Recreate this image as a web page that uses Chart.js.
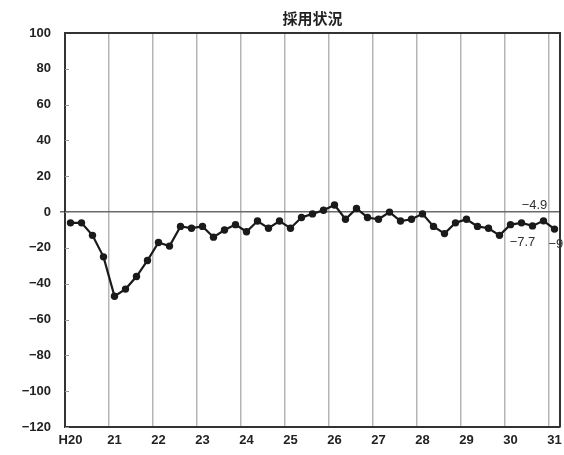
<!DOCTYPE html>
<html lang="ja">
<head>
<meta charset="utf-8">
<title>採用状況</title>
<script src="https://cdn.jsdelivr.net/npm/chart.js@4.4.1/dist/chart.umd.min.js"></script>
<style>
  html, body { margin: 0; padding: 0; background: #fff; }
  #wrap { width: 564px; height: 455px; position: relative; }
</style>
</head>
<body>
<div id="wrap"><canvas id="c" width="564" height="455"></canvas></div>
<script>
// Fiscal years (Heisei era), one tick label per year
const years = ['H20', '21', '22', '23', '24', '25', '26', '27', '28', '29', '30', '31'];
const quarters = ['1Q', '2Q', '3Q', '4Q'];

// Quarterly DI values, H20 1Q through H31 1Q (last one is the outlook)
const values = [
  -6, -6, -13, -25,
  -47, -43, -36, -27,
  -17, -19, -8, -9,
  -8, -14, -10, -7,
  -11, -5, -9, -5,
  -9, -3, -1, 1,
  4, -4, 2, -3,
  -4, 0, -5, -4,
  -1, -8, -12, -6,
  -4, -8, -9, -13,
  -7, -6, -7.7, -4.9,
  -9.5
];

// Quarter-level categories built from the year list
const categories = [];
years.forEach(y => quarters.forEach(q => categories.push(y + ' ' + q)));
categories.length = values.length;

// Points whose values are printed next to them
const labelledPoints = [
  { index: 42, place: 'below' },
  { index: 43, place: 'above' },
  { index: 44, place: 'belowRight' }
];

const yTicks = { min: -120, max: 100, step: 20 };
const titleText = '採用状況';

const minus = s => String(s).replace('-', '\u2212');

const framePlugin = {
  id: 'frame',
  afterDatasetsDraw(chart) {
    const { ctx, chartArea: a, scales } = chart;
    ctx.save();
    // small inward tick marks on the value axis
    ctx.strokeStyle = '#9a9a9a';
    ctx.lineWidth = 1;
    scales.y.ticks.forEach(t => {
      const py = Math.round(scales.y.getPixelForValue(t.value)) + 0.5;
      ctx.beginPath();
      ctx.moveTo(a.left, py);
      ctx.lineTo(a.left + 4, py);
      ctx.stroke();
    });
    // top and right edges of the plot frame
    ctx.strokeStyle = '#333';
    ctx.lineWidth = 2;
    ctx.beginPath();
    ctx.moveTo(a.left, a.top);
    ctx.lineTo(a.right, a.top);
    ctx.lineTo(a.right, a.bottom);
    ctx.stroke();

    // value labels
    const meta = chart.getDatasetMeta(0);
    ctx.fillStyle = '#333';
    ctx.font = '13px "Liberation Sans", Arial, sans-serif';
    ctx.textBaseline = 'middle';
    labelledPoints.forEach(p => {
      const el = meta.data[p.index];
      const txt = minus(values[p.index].toFixed(1));
      let x = el.x, y = el.y;
      if (p.place === 'above') { ctx.textAlign = 'center'; x -= 9; y -= 15; }
      else if (p.place === 'below') { ctx.textAlign = 'center'; x -= 10; y += 17; }
      else { ctx.textAlign = 'left'; x -= 6; y += 15; }
      ctx.fillText(txt, x, y);
    });

    // chart title centred over the plot
    ctx.fillStyle = '#222';
    ctx.font = 'bold 15px "Noto Sans CJK JP", sans-serif';
    ctx.textAlign = 'center';
    ctx.textBaseline = 'middle';
    ctx.fillText(titleText, (a.left + a.right) / 2, 18);
    ctx.restore();
  }
};

new Chart(document.getElementById('c'), {
  type: 'line',
  data: {
    labels: categories,
    datasets: [{
      data: values,
      borderColor: '#1a1a1a',
      borderWidth: 2.2,
      backgroundColor: '#1a1a1a',
      pointBackgroundColor: '#1a1a1a',
      pointBorderColor: '#1a1a1a',
      pointRadius: 3.7,
      pointBorderWidth: 0,
      tension: 0,
      clip: false
    }]
  },
  options: {
    responsive: false,
    animation: false,
    events: [],
    layout: { padding: { top: 33, right: 2, left: 0, bottom: 0 } },
    plugins: {
      legend: { display: false },
      tooltip: { enabled: false },
      title: { display: false }
    },
    scales: {
      x: {
        type: 'category',
        offset: true,
        grid: {
          offset: true,
          drawTicks: false,
          lineWidth: 1.5,
          color: c => (c.index !== undefined && c.index % 4 === 0 && c.index > 0) ? '#b5b5b5' : 'transparent'
        },
        border: { display: true, color: '#333', width: 2 },
        ticks: {
          autoSkip: false,
          maxRotation: 0,
          minRotation: 0,
          padding: 6,
          color: '#222',
          font: { family: '"Liberation Sans", Arial, sans-serif', size: 13, weight: 'bold' },
          callback: (v, i) => (i % 4 === 0 ? years[i / 4] : '')
        },
        afterFit: s => { s.height = 28; s.paddingLeft = 0; s.paddingRight = 0; }
      },
      y: {
        min: yTicks.min,
        max: yTicks.max,
        ticks: {
          stepSize: yTicks.step,
          padding: 9,
          color: '#222',
          font: { family: '"Liberation Sans", Arial, sans-serif', size: 13, weight: 'bold' },
          callback: v => minus(v)
        },
        grid: {
          drawTicks: true,
          tickLength: 5,
          lineWidth: 1.5,
          color: c => (c.tick && c.tick.value === 0) ? '#6a6a6a' : 'transparent'
        },
        border: { display: true, color: '#333', width: 2 },
        afterFit: s => { s.width = 65; s.paddingTop = 0; s.paddingBottom = 0; }
      }
    }
  },
  plugins: [framePlugin]
});
</script>
</body>
</html>
